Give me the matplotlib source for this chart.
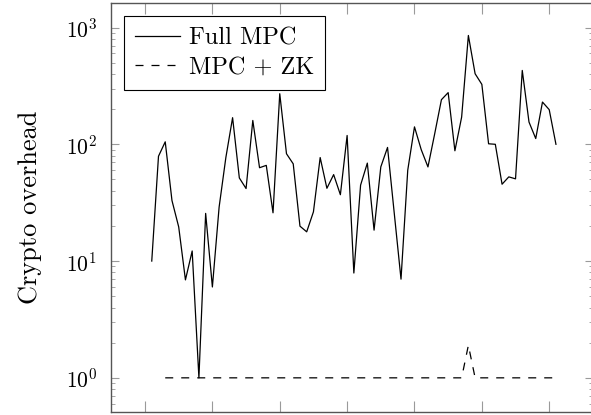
import numpy as np
import matplotlib
matplotlib.use("Agg")
import matplotlib.pyplot as plt
from matplotlib.ticker import LogLocator, NullFormatter, MultipleLocator

plt.rcParams['font.family'] = 'serif'
plt.rcParams['font.serif'] = ['cmr10']
plt.rcParams['mathtext.fontset'] = 'cm'
plt.rcParams['axes.unicode_minus'] = False
plt.rcParams['axes.formatter.use_mathtext'] = True

# data
run = np.arange(1, 62)
full_mpc = [10, 79, 105, 33, 19.6, 6.9, 12.2, 1, 25.6, 6,
            29, 77, 169, 51.5, 41.8, 160, 63, 66, 25.9, 271,
            83, 68, 19.9, 17.8, 26.4, 77, 42, 55, 37, 119,
            7.9, 44.7, 69, 18.4, 64, 94, 25.6, 7, 60, 141,
            90, 64, 123, 241, 277, 88, 171, 855, 402, 326,
            101, 100, 45.5, 52.6, 50.6, 429, 155, 112, 230, 198,
            100]
mpc_zk = [np.nan, np.nan] + [1] * 44 + [1, 1.9, 1] + [1] * 12

fig = plt.figure(figsize=(5.91, 4.15), dpi=100)
ax = fig.add_axes([111 / 591, 3.3 / 415, 482 / 591, 408.7 / 415])

ax.plot(run, full_mpc, color='black', lw=0.9, label='Full MPC')
ax.plot(run, mpc_zk, color='black', lw=0.9, dashes=(6.4, 6.4), label='MPC + ZK')

ax.set_yscale('log')
ax.set_xlim(-5.05, 66.5)
ax.set_ylim(10 ** -0.29, 10 ** 3.21)

ax.xaxis.set_major_locator(MultipleLocator(10))
ax.set_xticklabels([])
ax.yaxis.set_major_locator(LogLocator(base=10))
ax.yaxis.set_minor_locator(LogLocator(base=10, subs=np.arange(2, 10)))
ax.yaxis.set_minor_formatter(NullFormatter())

ax.tick_params(axis='x', which='major', direction='in', length=7.9, width=0.8,
               color='#9a9a9a', top=True, bottom=True)
ax.tick_params(axis='y', which='major', direction='in', length=5.8, width=0.8,
               color='#9a9a9a', left=True, right=True, labelsize=15.5, pad=10)
ax.tick_params(axis='y', which='minor', direction='in', length=2.9, width=0.6,
               color='#9a9a9a', left=True, right=True)
for s in ax.spines.values():
    s.set_color('#555555')
    s.set_linewidth(1.0)

ax.set_ylabel('Crypto overhead', fontsize=19, labelpad=17)

leg = ax.legend(loc='upper left', fontsize=17.5, fancybox=False, framealpha=1,
                edgecolor='black', handlelength=1.85, borderaxespad=0.55,
                borderpad=0.45, labelspacing=0.3, handletextpad=0.35)
leg.get_frame().set_linewidth(0.8)

fig.savefig('out.png', dpi=100)
